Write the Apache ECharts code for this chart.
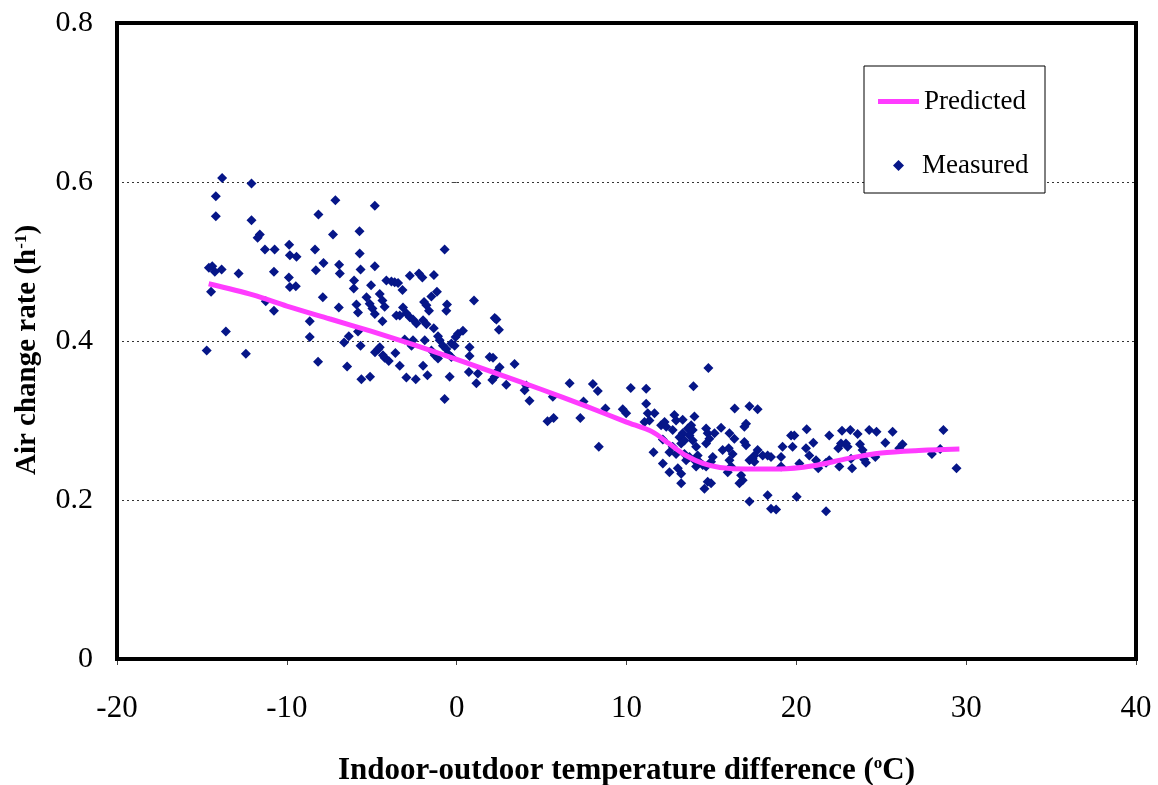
<!DOCTYPE html>
<html>
<head>
<meta charset="utf-8">
<script src="https://cdn.jsdelivr.net/npm/echarts@6/dist/echarts.min.js"></script>
<style>html,body{margin:0;padding:0;background:#fff}#c{width:1158px;height:785px}</style>
</head>
<body>
<div id="c"></div>
<script>
// Measured points (temperature difference, air change rate)
const measuredX = [-13.81,-12.08,-14.18,-14.18,-12.08,-7.14,-4.82,-8.14,-11.59,-11.72,-7.28,-5.72,-11.29,-10.72,-9.86,-9.82,-9.43,-8.34,-5.71,-14.59,-14.39,-14.24,-13.84,-12.84,-10.76,-8.29,-7.84,-6.92,-6.88,-5.66,-4.82,-4.14,-14.46,-9.88,-9.82,-9.47,-6.04,-6.06,-5.04,-11.24,-10.76,-7.88,-6.94,-5.9,-5.81,-5.31,-5.12,-4.96,-4.82,-4.53,-4.37,-4.24,-4.37,-13.59,-8.65,-8.65,-6.63,-6.35,-5.81,-14.72,-12.41,-8.16,-5.66,-6.45,-4.81,-4.61,-4.24,-4.0,-5.61,-5.1,
-0.71,-3.84,-3.65,-3.45,-2.76,-2.22,-2.02,-1.34,-3.19,-1.16,-1.49,-1.92,-1.78,-1.63,-0.57,-0.61,1.02,-3.16,-3.35,-2.96,-2.76,-2.57,-2.37,-1.98,-1.78,-3.55,-1.35,2.24,2.34,2.49,0.37,0.08,-0.06,-1.1,-1.0,-3.06,-2.57,-2.66,-1.88,-4.53,-0.31,-0.12,-0.81,-0.61,0.76,0.76,-1.49,-1.29,-1.1,-0.51,-0.31,-4.34,-3.61,1.94,2.14,3.41,-3.35,-1.98,-2.96,-2.41,-1.72,-0.41,0.72,1.25,1.16,2.53,2.34,2.24,2.1,2.92,4.1,4.0,4.29,5.66,6.65,-0.71,5.35,5.71,
14.82,8.02,8.31,10.25,11.16,13.94,7.47,7.28,8.76,9.78,9.98,11.16,11.25,11.65,11.06,11.35,8.37,16.37,17.24,17.72,17.04,16.94,15.57,16.06,16.35,16.94,17.04,12.04,12.24,12.34,12.82,12.92,12.72,13.31,14.0,13.81,13.61,13.9,13.71,13.9,13.31,13.12,13.41,13.22,14.69,14.78,14.88,14.69,15.18,12.14,12.72,12.53,12.92,11.59,15.66,16.02,16.25,17.72,17.53,17.24,18.02,18.31,13.41,13.71,13.51,14.1,14.19,14.0,14.29,14.1,14.49,14.69,15.08,14.98,12.14,12.53,13.02,13.22,13.22,14.78,14.98,14.59,16.06,15.96,16.16,16.75,16.84,16.65,17.24,18.31,17.43,
17.53,18.51,18.51,18.81,19.1,19.1,19.19,19.69,19.88,19.78,20.18,20.02,20.61,20.57,20.76,21.0,21.16,21.29,21.75,21.94,21.94,21.75,22.53,22.47,22.63,22.92,23.02,22.69,23.18,23.61,23.28,23.22,23.75,23.9,24.0,24.0,24.1,24.29,24.72,24.65,25.24,25.67,26.06,26.25,27.98,28.47,28.66,29.43];
const measuredY = [0.605,0.598,0.582,0.557,0.552,0.577,0.570,0.559,0.534,0.530,0.534,0.538,0.515,0.515,0.521,0.508,0.506,0.515,0.510,0.492,0.494,0.487,0.490,0.485,0.487,0.489,0.498,0.496,0.485,0.490,0.494,0.476,0.462,0.480,0.468,0.469,0.476,0.466,0.470,0.450,0.438,0.455,0.442,0.446,0.436,0.455,0.447,0.441,0.434,0.459,0.451,0.443,0.425,0.412,0.425,0.405,0.398,0.406,0.412,0.388,0.384,0.374,0.394,0.368,0.386,0.390,0.379,0.375,0.352,0.355,
0.515,0.475,0.474,0.473,0.482,0.485,0.480,0.483,0.464,0.462,0.456,0.449,0.445,0.438,0.446,0.438,0.451,0.442,0.432,0.435,0.430,0.427,0.422,0.426,0.421,0.432,0.416,0.429,0.427,0.414,0.413,0.409,0.405,0.406,0.401,0.402,0.401,0.394,0.401,0.392,0.397,0.394,0.394,0.390,0.392,0.381,0.388,0.382,0.378,0.384,0.380,0.382,0.385,0.380,0.379,0.371,0.369,0.369,0.354,0.352,0.357,0.355,0.361,0.359,0.347,0.367,0.361,0.355,0.351,0.345,0.344,0.338,0.325,0.330,0.347,0.327,0.299,0.303,
0.366,0.346,0.337,0.341,0.340,0.343,0.324,0.303,0.315,0.314,0.309,0.321,0.309,0.309,0.298,0.300,0.267,0.315,0.318,0.314,0.296,0.292,0.291,0.284,0.277,0.273,0.269,0.294,0.298,0.292,0.307,0.300,0.288,0.301,0.305,0.294,0.290,0.288,0.281,0.275,0.284,0.279,0.275,0.271,0.290,0.284,0.277,0.271,0.284,0.276,0.267,0.260,0.258,0.260,0.263,0.265,0.258,0.263,0.256,0.250,0.256,0.256,0.258,0.254,0.250,0.267,0.256,0.250,0.248,0.242,0.244,0.242,0.254,0.248,0.246,0.235,0.240,0.233,0.221,0.223,0.221,0.214,0.250,0.235,0.242,0.231,0.225,0.221,0.198,0.206,0.252,
0.248,0.254,0.189,0.188,0.254,0.242,0.267,0.281,0.281,0.267,0.246,0.204,0.289,0.265,0.256,0.272,0.250,0.240,0.186,0.281,0.250,0.247,0.242,0.265,0.271,0.271,0.267,0.287,0.288,0.283,0.240,0.252,0.270,0.263,0.256,0.251,0.247,0.288,0.286,0.254,0.272,0.286,0.265,0.270,0.258,0.264,0.288,0.240];

// Predicted curve
const predictedX = [-14.6,-12,-10,-7.5,-5,-2.5,0,2.5,5,7.5,10,11.5,12.5,13.5,14.5,15.5,17,19,21,23,25,27,29.6];
const predictedY = [0.472,0.458,0.444,0.428,0.412,0.395,0.377,0.358,0.339,0.319,0.298,0.286,0.271,0.256,0.246,0.241,0.239,0.239,0.243,0.252,0.259,0.262,0.264];

// Axis ticks
const xTicks = {min: -20, max: 40, step: 10};
const yTicks = {min: 0, max: 0.8, step: 0.2};

const serif = "'Liberation Serif','Times New Roman',serif";
const measured = measuredX.map((x, i) => [x, measuredY[i]]);
const predicted = predictedX.map((x, i) => [x, predictedY[i]]);

const chart = echarts.init(document.getElementById('c'), null, {renderer: 'canvas'});
chart.setOption({
  backgroundColor: '#fff',
  animation: false,
  grid: {left: 117, right: 22, top: 23, bottom: 126, outerBoundsMode: 'none', containLabel: false,
    show: true, borderColor: '#000', borderWidth: 4, backgroundColor: 'transparent', z: 3},
  xAxis: {
    type: 'value', min: xTicks.min, max: xTicks.max, interval: xTicks.step,
    axisLine: {show: false},
    axisTick: {show: true, length: 6, inside: false, lineStyle: {color: '#444', width: 1}},
    splitLine: {show: false},
    axisLabel: {color: '#000', fontFamily: serif, fontSize: 31, margin: 34},
    name: '{a|Indoor-outdoor temperature difference (}{s|o}{a|C)}',
    nameLocation: 'middle', nameGap: 96,
    nameTextStyle: {
      rich: {
        a: {fontFamily: serif, fontSize: 31, fontWeight: 'bold', color: '#000'},
        s: {fontFamily: serif, fontSize: 17, fontWeight: 'bold', color: '#000', verticalAlign: 'top', padding: [0, 0, 13, 0]}
      }
    }
  },
  yAxis: {
    type: 'value', min: yTicks.min, max: yTicks.max, interval: yTicks.step,
    axisLine: {show: false},
    axisTick: {show: true, length: 5, inside: false, lineStyle: {color: '#444', width: 1}},
    splitLine: {show: true, lineStyle: {color: '#333', width: 1, type: [2, 3]}},
    axisLabel: {color: '#000', fontFamily: serif, fontSize: 30, margin: 24,
      formatter: v => v === 0 ? '0' : v.toFixed(1)},
    name: '{a|Air change rate (h}{s|-1}{a|)}',
    nameLocation: 'middle', nameGap: 74,
    nameTextStyle: {
      padding: [0, 18, 0, 0],
      rich: {
        a: {fontFamily: serif, fontSize: 29, fontWeight: 'bold', color: '#000'},
        s: {fontFamily: serif, fontSize: 17, fontWeight: 'bold', color: '#000', verticalAlign: 'top', padding: [0, 0, 13, 0]}
      }
    }
  },
  graphic: [{
    type: 'rect', z: 10, silent: true,
    shape: {x: 864, y: 66, width: 181, height: 127},
    style: {fill: '#fff', stroke: '#000', lineWidth: 1}
  }],
  legend: [
    {data: [{name: 'Predicted', icon: 'rect'}], left: 873, top: 83, z: 20, itemWidth: 41, itemHeight: 5,
      textStyle: {fontFamily: serif, fontSize: 27, color: '#000'}},
    {data: [{name: 'Measured', icon: 'diamond'}], left: 888, top: 147, z: 20, itemWidth: 11, itemHeight: 11,
      textStyle: {fontFamily: serif, fontSize: 27, color: '#000', padding: [0, 0, 0, 13]}}
  ],
  series: [
    {name: 'Measured', type: 'scatter', data: measured, symbol: 'diamond', symbolSize: 10,
      itemStyle: {color: '#061688', opacity: 1}, z: 2},
    {name: 'Predicted', type: 'line', data: predicted, symbol: 'none', smooth: 0.3,
      lineStyle: {color: '#ff3cff', width: 5}, itemStyle: {color: '#ff3cff'}, z: 3}
  ]
});
</script>
</body>
</html>
